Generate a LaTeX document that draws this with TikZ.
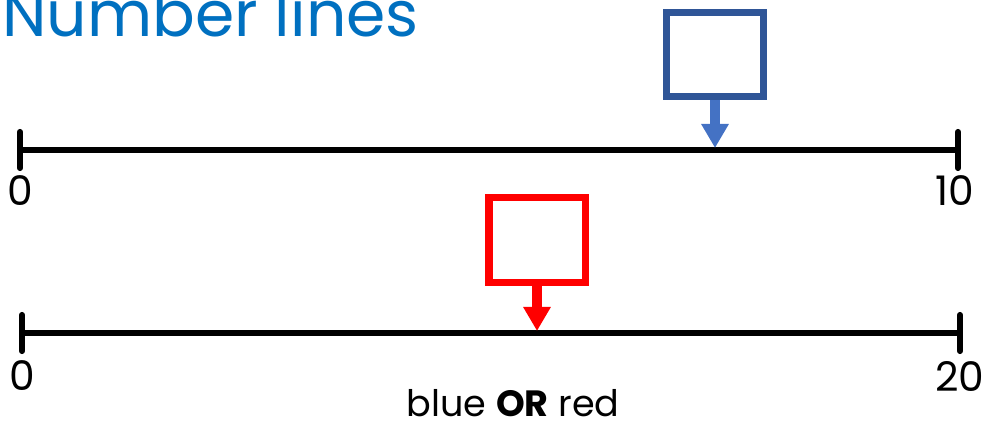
\documentclass[tikz,border=0pt]{standalone}
\usepackage{fontspec}
\setmainfont{Poppins}
\usetikzlibrary{arrows.meta}

\definecolor{titleblue}{RGB}{0,112,192}
\definecolor{boxblue}{RGB}{47,85,151}
\definecolor{arrowblue}{RGB}{68,114,196}
\definecolor{boxred}{RGB}{255,0,0}

\def\ticklen{18}

\tikzset{
  heading/.style={text=titleblue, font=\fontsize{45}{45}\selectfont, inner sep=0pt},
  numline/.style={line width=4.4pt},
  tickmark/.style={line width=4.4pt, line cap=round},
  numlabel/.style={font=\fontsize{29}{29}\selectfont, inner sep=0pt},
  answerbox/.style={draw, line width=5pt, inner sep=0pt, fill=white},
  pointer/.style={line width=7pt, -{Triangle[length=0.6cm, width=0.65cm]}}
}

\begin{document}
\begin{tikzpicture}[x=0.025cm, y=-0.025cm]
    \useasboundingbox (0,0) rectangle (990,425);
    \node[heading, anchor=base west] (title) at (2,37) {Number lines};

    % top line, 0 to 10
    \coordinate (top0) at (20,150);
    \coordinate (top1) at (958,150);
    \draw[numline] (top0) -- (top1);
    \foreach \p in {top0,top1}
        \draw[tickmark] (\p) +(0,-\ticklen) -- +(0,\ticklen);
    \node[numlabel] (top0lab) at (20,191) {0};
    \node[numlabel] (top1lab) at (955,191) {10};
    \node[answerbox, draw=boxblue, minimum width=2.425cm, minimum height=2.1cm] (bluebox) at (715,54.5) {};
    \coordinate (bluetip) at (715,148);
    \draw[pointer, arrowblue] (bluebox.south) -- (bluetip);

    % bottom line, 0 to 20
    \coordinate (bot0) at (22,333);
    \coordinate (bot1) at (960,333);
    \draw[numline] (bot0) -- (bot1);
    \foreach \p in {bot0,bot1}
        \draw[tickmark] (\p) +(0,-\ticklen) -- +(0,\ticklen);
    \node[numlabel] (bot0lab) at (22,376) {0};
    \node[numlabel] (bot1lab) at (960,376) {20};
    \node[answerbox, draw=boxred, minimum width=2.4cm, minimum height=2.125cm] (redbox) at (537,240) {};
    \coordinate (redtip) at (537,331);
    \draw[pointer, boxred] (redbox.south) -- (redtip);

    \node[numlabel, font=\fontsize{26}{26}\selectfont, anchor=base] (choice) at (513,416) {blue \textbf{OR} red};
\end{tikzpicture}
\end{document}
